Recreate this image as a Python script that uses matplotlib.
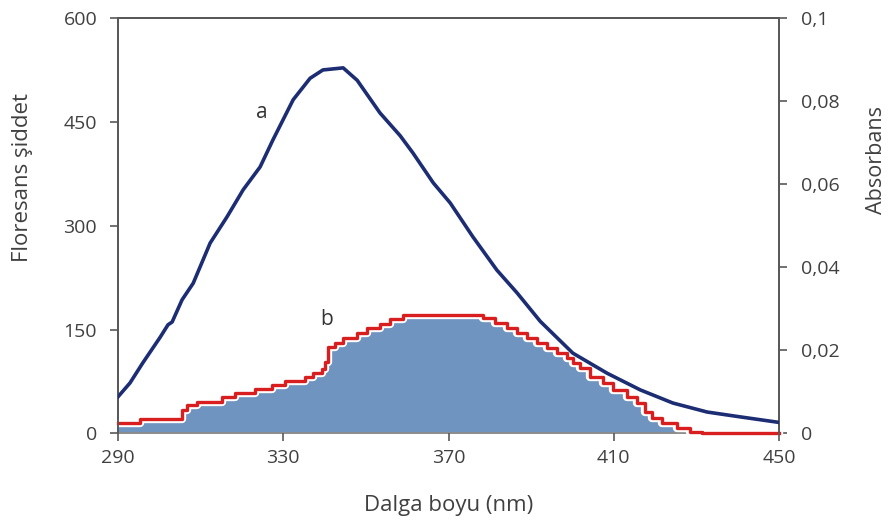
import matplotlib
matplotlib.use("Agg")
import matplotlib.pyplot as plt
import matplotlib.patheffects as pe
from matplotlib.ticker import FixedLocator, FuncFormatter

plt.rcParams['font.family'] = ['Open Sans', 'DejaVu Sans']

# fluorescence spectrum (curve a), left axis
wl_a = [290, 292.9, 296.0, 300.2, 302.1, 303.1, 305.5, 308.2, 312.3, 316.4,
        320.3, 324.4, 327.5, 332.4, 336.5, 339.6, 344.5, 347.9, 353.4, 358.3,
        361.4, 366.3, 370.4, 375.9, 381.7, 386.6, 392.2, 400.1, 408.4, 416.4,
        424.3, 432.6, 440.6, 450]
fl_a = [53, 73, 102, 139, 157, 161, 193, 217, 275, 313,
        352, 385, 424, 482, 513, 525, 528, 510, 463, 430,
        405, 362, 333, 284, 236, 203, 162, 116, 87, 63,
        44, 31, 24, 16]

# absorption spectrum (curve b), right axis, stepwise
wl_b = [290.0, 295.3, 305.5, 306.7, 309.1, 315.2, 318.3, 323.2, 327.3, 330.4,
        335.3, 337.2, 339.4, 340.1, 340.8, 342.5, 344.5, 347.9, 350.3, 353.4,
        355.8, 359.0, 378.4, 381.3, 384.2, 386.6, 389.0, 391.4, 393.9, 396.3,
        398.7, 400.1, 401.8, 404.2, 407.4, 409.8, 413.2, 415.6, 417.6, 419.3,
        421.7, 425.3, 428.5, 431.4, 450.0]
ab_b = [0.0026, 0.0034, 0.0057, 0.0069, 0.0077, 0.0089, 0.0098, 0.0106, 0.0117, 0.0126,
        0.0135, 0.0145, 0.0155, 0.0173, 0.0207, 0.0219, 0.0229, 0.0241, 0.0253, 0.0264,
        0.0275, 0.0285, 0.0277, 0.0265, 0.0253, 0.0241, 0.0229, 0.0217, 0.0205, 0.0193,
        0.0181, 0.0169, 0.0157, 0.0137, 0.0121, 0.0105, 0.0089, 0.0073, 0.0052, 0.0037,
        0.0025, 0.0013, 0.0004, 0.0, 0.0]

x_ticks = [290, 330, 370, 410, 450]
fl_ticks = [0, 150, 300, 450, 600]
ab_ticks = [0, 0.02, 0.04, 0.06, 0.08, 0.1]

TXT = '#404040'
SPINE = '#595959'

fig = plt.figure(figsize=(8.9, 5.25), dpi=100)
ax = fig.add_axes([0.1326, 0.1743, 0.7427, 0.7914])
ax2 = ax.twinx()

# absorbance: filled steps with a red outline on top
ax2.fill_between(wl_b, ab_b, 0, step='post', color='#7094c0', linewidth=0, zorder=1)
ax2.plot(wl_b, ab_b, drawstyle='steps-post', color='#d81e1e', linewidth=2.4, zorder=3,
         clip_on=False,
         path_effects=[pe.Stroke(linewidth=6, foreground='white'), pe.Normal()])
ax2.set_ylim(0, 0.1)

# fluorescence curve above the absorbance
ax.set_zorder(ax2.get_zorder() + 1)
ax.patch.set_visible(False)
ax.plot(wl_a, fl_a, color='#1c2d74', linewidth=2.6, zorder=3)
ax.set_xlim(290, 450)
ax.set_ylim(0, 600)
ax.spines['bottom'].set_visible(False)

ax.text(324.9, 463, 'a', fontsize=15, color='#333333', ha='center', va='center')
ax.text(340.4, 164, 'b', fontsize=15, color='#333333', ha='center', va='center')

ax.xaxis.set_major_locator(FixedLocator(x_ticks))
ax.yaxis.set_major_locator(FixedLocator(fl_ticks))
ax2.yaxis.set_major_locator(FixedLocator(ab_ticks))
ax2.yaxis.set_major_formatter(FuncFormatter(lambda v, _: ('%g' % round(v, 2)).replace('.', ',')))

for a in (ax, ax2):
    for s in a.spines.values():
        s.set_color(SPINE)
        s.set_linewidth(1.4)
    a.tick_params(direction='out', length=6, width=1.2, color=SPINE,
                  labelsize=14, labelcolor=TXT)
ax2.spines['bottom'].set_color('#8c8c8c')
ax.tick_params(axis='y', pad=9)
ax.tick_params(axis='x', pad=5)
ax2.tick_params(axis='y', pad=10)

ax.set_xlabel('Dalga boyu (nm)', fontsize=16, color=TXT, labelpad=20)
ax.set_ylabel('Floresans şiddet', fontsize=16, color=TXT)
ax.yaxis.set_label_coords(-0.128, 0.617)
ax2.set_ylabel('Absorbans', fontsize=15.5, color=TXT)
ax2.yaxis.set_label_coords(1.131, 0.658)

fig.savefig('out.png', dpi=100)
